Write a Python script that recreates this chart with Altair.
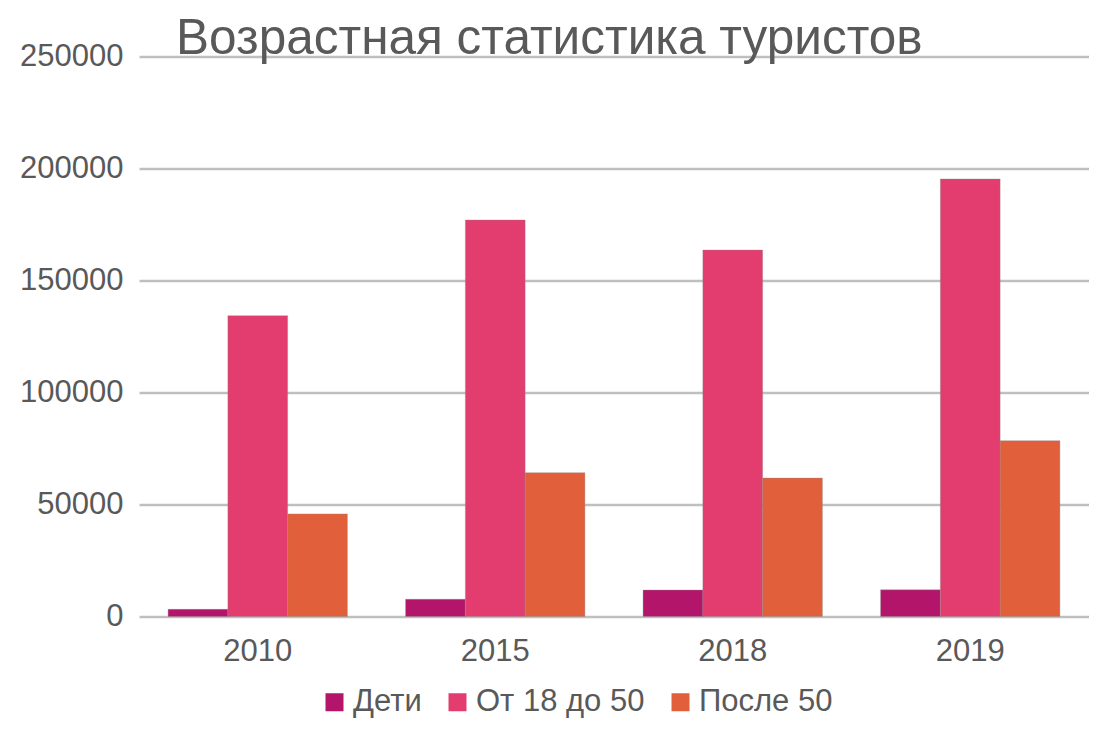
import altair as alt
import pandas as pd

years = ["2010", "2015", "2018", "2019"]
series = ["Дети", "От 18 до 50", "После 50"]
deti = [3200, 7700, 11800, 11900]
mid = [134300, 177000, 163600, 195300]
after50 = [45800, 64200, 61800, 78500]
colors = ["#B3156A", "#E33D6F", "#E1603B"]
title_text = ["Возрастная статистика туристов"]

rows = []
for s, vals in zip(series, [deti, mid, after50]):
    for y, v in zip(years, vals):
        rows.append({"Год": y, "Группа": s, "Значение": v})
df = pd.DataFrame(rows)

FONT = "Liberation Sans"
TXT = "#595959"

bars = alt.Chart(df).mark_bar(stroke="#8a8a8a", strokeWidth=0.6, strokeOpacity=0.6).encode(
    x=alt.X("Год:N", sort=years,
            scale=alt.Scale(paddingInner=0.245, paddingOuter=0.1225),
            axis=alt.Axis(title=None, labelAngle=0, labelFontSize=31, labelColor=TXT,
                          labelFont=FONT, ticks=False, domain=False, labelPadding=20)),
    xOffset=alt.XOffset("Группа:N", sort=series, scale=alt.Scale(paddingInner=0, paddingOuter=0)),
    y=alt.Y("Значение:Q", scale=alt.Scale(domain=[0, 250000], nice=False),
            axis=alt.Axis(title=None, values=[0, 50000, 100000, 150000, 200000, 250000],
                          format="d", labelFontSize=31, labelColor=TXT, labelFont=FONT,
                          ticks=False, domain=False, labelPadding=16,
                          gridColor="#BFBFBF", gridWidth=2.5)),
    color=alt.Color("Группа:N", sort=series,
                    scale=alt.Scale(domain=series, range=colors),
                    legend=alt.Legend(title=None, orient="none", direction="horizontal",
                                      legendX=180, legendY=630,
                                      symbolType="square", symbolSize=324,
                                      symbolStrokeWidth=0, labelFontSize=31,
                                      labelColor=TXT, labelFont=FONT, labelOffset=3,
                                      columnPadding=20, labelLimit=400)),
)

title = alt.Chart(pd.DataFrame({"t": title_text})).mark_text(
    align="left", baseline="alphabetic", fontSize=49.5, font=FONT, color=TXT
).encode(x=alt.value(37), y=alt.value(-2.5), text="t:N")

chart = alt.layer(bars, title).properties(
    width=950,
    height=560,
    autosize=alt.AutoSizeParams(type="none"),
    padding={"left": 131, "top": 48.5, "right": 0, "bottom": 104.5},
).configure_view(stroke=None)

chart.save("out.html", embed_options={"renderer": "svg", "actions": False})
